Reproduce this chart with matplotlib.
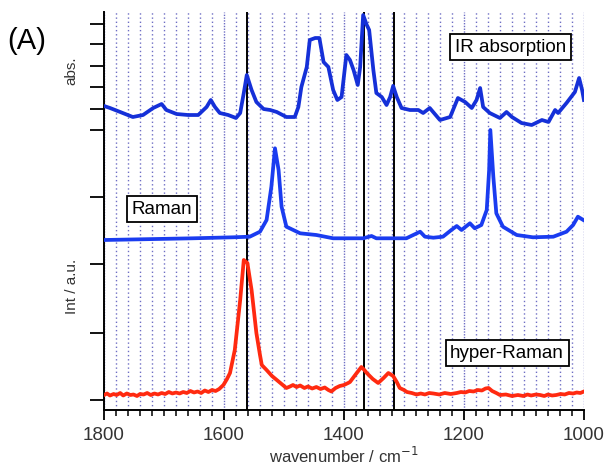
import numpy as np
import matplotlib
matplotlib.use("Agg")
import matplotlib.pyplot as plt
from matplotlib.ticker import MultipleLocator

plt.rcParams['font.family'] = ['Liberation Sans', 'DejaVu Sans']

# IR absorption trace (wavenumber, height)
ir_wn = [1800, 1790, 1773, 1752, 1735, 1718, 1704, 1696, 1679, 1660, 1643, 1629, 1622,
         1615, 1607, 1593, 1580, 1573, 1567, 1562, 1554, 1546, 1534, 1523, 1512, 1496,
         1482, 1476, 1471, 1462, 1457, 1448, 1441, 1434, 1426, 1418, 1411, 1404, 1396,
         1390, 1384, 1377, 1373, 1368, 1362, 1358, 1351, 1346, 1337, 1329, 1323, 1318,
         1312, 1304, 1290, 1276, 1268, 1257, 1240, 1223, 1210, 1198, 1187, 1179, 1173,
         1168, 1157, 1140, 1129, 1120, 1104, 1087, 1070, 1059, 1048, 1043, 1029, 1015,
         1008, 1003, 1000]
ir_y = [304, 302, 298, 293, 295, 302, 306, 300, 296, 295, 295, 303, 310,
        303, 297, 295, 292, 297, 317, 335, 320, 308, 301, 300, 298, 293,
        293, 303, 323, 343, 370, 372, 372, 348, 343, 320, 310, 313, 355,
        350, 340, 325, 343, 395, 385, 380, 340, 317, 313, 305, 313, 324,
        313, 302, 300, 300, 297, 302, 290, 293, 312, 308, 302, 310, 322,
        303, 297, 292, 298, 293, 287, 285, 290, 288, 300, 297, 307, 318,
        332, 320, 310]

# Raman trace
ra_wn = [1800, 1652, 1585, 1557, 1540, 1529, 1521, 1515, 1509, 1504, 1496, 1473, 1446,
         1418, 1393, 1368, 1354, 1346, 1296, 1273, 1265, 1251, 1235, 1221, 1212, 1204,
         1190, 1182, 1171, 1162, 1158, 1156, 1151, 1146, 1135, 1112, 1085, 1051, 1029,
         1018, 1010, 1001]
ra_y = [170, 171.7, 172.7, 173.3, 178.3, 190, 223.3, 261.7, 240, 203.3, 183.3, 176.7, 175,
        171.7, 171.7, 171.7, 174, 171.7, 171.7, 178.3, 173.3, 172.3, 173.3, 180, 184, 180,
        186.7, 181.7, 185, 200, 240, 280, 233.3, 196.7, 183.3, 175, 172.7, 173.3, 178.3,
        185, 193.3, 190]

# hyper-Raman trace
hr_wn = [1800, 1795, 1790, 1784, 1779, 1773, 1768, 1762, 1756, 1751, 1745, 1740, 1734,
         1728, 1722, 1716, 1710, 1704, 1698, 1692, 1686, 1680, 1674, 1668, 1662, 1656,
         1650, 1644, 1638, 1632, 1626, 1620, 1614, 1608, 1601, 1595, 1590, 1582, 1573,
         1567, 1561, 1554, 1546, 1540, 1537, 1529, 1520, 1512, 1504, 1496, 1490, 1485,
         1479, 1473, 1466, 1460, 1453, 1446, 1439, 1432, 1426, 1421, 1414, 1407, 1400,
         1393, 1390, 1380, 1371, 1366, 1362, 1352, 1343, 1334, 1326, 1318, 1312, 1307,
         1300, 1295, 1287, 1279, 1272, 1265, 1258, 1251, 1241, 1232, 1222, 1212, 1205,
         1198, 1191, 1184, 1177, 1170, 1164, 1159, 1153, 1146, 1140, 1130, 1120, 1110,
         1101, 1094, 1088, 1080, 1073, 1066, 1060, 1053, 1046, 1039, 1032, 1025, 1018,
         1012, 1006, 1000]
hr_y = [15, 16.5, 14.5, 16, 15, 17, 14.5, 16.5, 15, 15.5, 14, 16, 15.5,
        17, 15, 16.5, 15.5, 17, 16, 18, 16.5, 17.5, 16.5, 18, 17, 19,
        17.5, 18.5, 17, 19.5, 18, 20, 19, 21, 25, 31, 37, 60, 110,
        150, 147, 120, 77, 55, 45, 40, 34, 30, 26, 22, 23.5, 25,
        23, 24.5, 22, 23.5, 21.5, 23, 21, 22.5, 20, 18.5, 22, 24, 25,
        27, 28, 36, 43, 40, 37, 31, 27, 32, 37, 34, 28, 22,
        20, 18, 17, 15.5, 16.5, 15.5, 17, 16.5, 15.5, 17, 16, 17, 18,
        17.5, 19, 18.5, 20, 19.5, 21.5, 22, 19, 17, 15, 15.5, 14, 15,
        14, 15.5, 14.5, 15.5, 15, 14, 15.5, 14.5, 15, 16, 15.5, 17, 16.5,
        17.5, 17, 18.5]

marker_lines = [1562, 1366, 1317]
left_ticks = [386, 366, 344, 323, 301, 280, 213, 146, 77, 10]
x_major = [1800, 1600, 1400, 1200, 1000]

fig = plt.figure(figsize=(6.09, 4.69), dpi=100)
ax = fig.add_axes([0.1708, 0.1258, 0.788, 0.8486])

# dotted vertical grid
for w in np.arange(1000, 1801, 20):
    dash = (0, (1, 1)) if w in x_major else (0, (1, 2))
    ax.axvline(w, color='#6e6ec4', lw=1.0, ls=dash, zorder=1)

for w in marker_lines:
    ax.axvline(w, color='black', lw=1.4, zorder=2)

ax.plot(ir_wn, ir_y, color='#1530d8', lw=2.7, zorder=3, solid_joinstyle='round')
ax.plot(ra_wn, ra_y, color='#1a3cf0', lw=2.7, zorder=3, solid_joinstyle='round')
ax.plot(hr_wn, hr_y, color='#ff2a10', lw=2.7, zorder=3, solid_joinstyle='round')

ax.set_xlim(1800, 1000)
ax.set_ylim(0, 398)
ax.set_xticks(x_major)
ax.xaxis.set_minor_locator(MultipleLocator(20))
ax.set_yticks(left_ticks)
ax.set_yticklabels([])
ax.tick_params(axis='y', direction='out', length=10, width=1.3)
ax.tick_params(axis='x', which='major', direction='out', length=7.5, width=1.3,
               labelsize=13.5, colors='black', pad=5)
ax.tick_params(axis='x', which='minor', direction='out', length=4, width=1.1)
for t in ax.get_xticklabels():
    t.set_color('#333333')

for s in ['top', 'right']:
    ax.spines[s].set_visible(False)
ax.spines['left'].set_linewidth(1.4)
ax.spines['bottom'].set_linewidth(1.4)

ax.set_xlabel('wavenumber / cm$^{-1}$', fontsize=12, color='#333333', labelpad=1)

box = dict(boxstyle='square,pad=0.25', fc='white', ec='black', lw=1.3)
ax.text(1122, 363, 'IR absorption', fontsize=13.5, ha='center', va='center', bbox=box, zorder=5)
ax.text(1703, 201, 'Raman', fontsize=13.5, ha='center', va='center', bbox=box, zorder=5)
ax.text(1128, 57, 'hyper-Raman', fontsize=13.5, ha='center', va='center', bbox=box, zorder=5)

fig.text(0.118, 0.85, 'abs.', rotation=90, fontsize=11, ha='center', va='center', color='#333333')
fig.text(0.118, 0.39, 'Int / a.u.', rotation=90, fontsize=11, ha='center', va='center', color='#333333')
fig.text(0.012, 0.912, '(A)', fontsize=21, ha='left', va='center')

fig.savefig('out.png', dpi=100)
